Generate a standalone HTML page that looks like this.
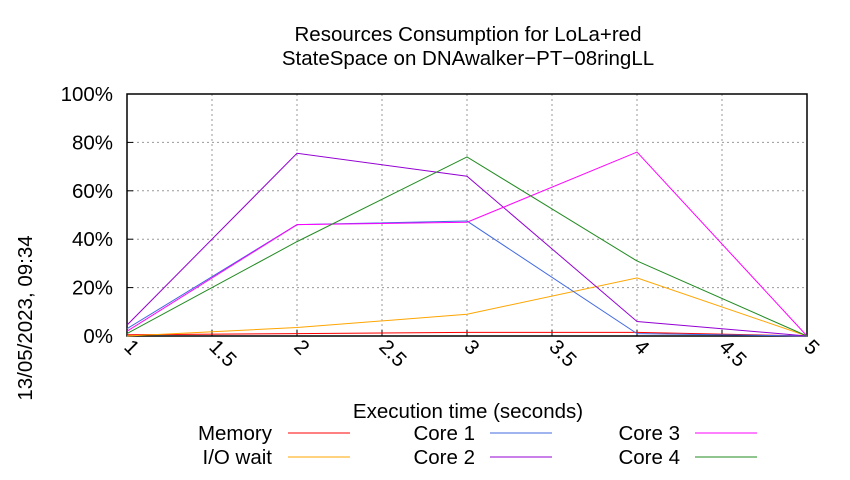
<!DOCTYPE html>
<html><head><meta charset="utf-8"><style>
body{margin:0;background:#fff;width:850px;height:475px;overflow:hidden}
text{font-family:"Liberation Sans",sans-serif;fill:#000}
</style></head><body>
<svg id="chart" width="850" height="475">
<text x="468" y="41" font-size="20.5" text-anchor="middle">Resources Consumption for LoLa+red</text>
<text x="468" y="65" font-size="20.5" text-anchor="middle">StateSpace on DNAwalker−PT−08ringLL</text>
<text transform="translate(32,318) rotate(-90)" font-size="20.5" text-anchor="middle">13/05/2023, 09:34</text>
<text x="468" y="418" font-size="20.5" text-anchor="middle">Execution time (seconds)</text>
<g id="grid"></g><g id="series"></g><g id="legend"></g>
</svg>
<script>
const xTicks=[1,1.5,2,2.5,3,3.5,4,4.5,5];
const xTickLabels=["1","1.5","2","2.5","3","3.5","4","4.5","5"];
const yTicks=[0,20,40,60,80,100];
const yTickLabels=["0%","20%","40%","60%","80%","100%"];
const times=[1,2,3,4,5];
const seriesNames=["Memory","I/O wait","Core 1","Core 2","Core 3","Core 4"];
const seriesColors=["#ff0000","#ffa500","#4169e1","#9400d3","#ff00ff","#228b22"];
const memory=[0.5,1,1.5,1.5,0];
const ioWait=[0,3.5,9,24,0];
const core1=[3,46,47.5,1,0];
const core2=[4.5,75.5,66,6,0];
const core3=[2,46,47,76,0];
const core4=[1,39,74,31,0];
const allSeries=[memory,ioWait,core1,core2,core3,core4];
const L=127,R=807,T=94,B=336;
const xs=v=>L+(v-1)/4*(R-L);
const ys=v=>B-v/100*(B-T);
const NS="http://www.w3.org/2000/svg";
function mk(tag,attrs,parent,txt){const e=document.createElementNS(NS,tag);for(const k in attrs)e.setAttribute(k,attrs[k]);if(txt!==undefined)e.textContent=txt;parent.appendChild(e);return e;}
const g=document.getElementById('grid');
yTicks.forEach((v,i)=>{
 if(v>0&&v<100){const l=mk('line',{x1:L,x2:R,y1:ys(v),y2:ys(v),stroke:'#999','stroke-dasharray':'2,3'},g);
 
 }
 const t=mk('text',{x:L-14,y:ys(v)+7,'font-size':20.5,'text-anchor':'end'},g,yTickLabels[i]);
 
 
 const tk=mk('line',{x1:L,x2:L+6,y1:ys(v),y2:ys(v),stroke:'#000'},g);
 
 
});
xTicks.forEach((v,i)=>{
 if(v>1&&v<5){const l=mk('line',{x1:xs(v),x2:xs(v),y1:T,y2:B,stroke:'#999','stroke-dasharray':'2,3'},g);
 
 }
 const tk=mk('line',{x1:xs(v),x2:xs(v),y1:B,y2:B-6,stroke:'#000'},g);
 
 
 const t=mk('text',{transform:`translate(${xs(v)-4},${B+12}) rotate(45)`,'font-size':20.5},g,xTickLabels[i]);
 
 
});
const fr=mk('rect',{x:L,y:T,width:R-L,height:B-T,fill:'none',stroke:'#000','stroke-width':1.5},g);


const sg=document.getElementById('series');
allSeries.forEach((d,i)=>{
 const p=mk('polyline',{points:d.map((v,j)=>xs(times[j])+','+ys(v)).join(' '),fill:'none',stroke:seriesColors[i],'stroke-width':1},sg);
 
 
});
const lg=document.getElementById('legend');
const lpos=[[272,288,433],[272,288,457],[475,490,433],[475,490,457],[680,695,433],[680,695,457]];
seriesNames.forEach((n,i)=>{
 const [tx,lx,y]=lpos[i];
 const t=mk('text',{x:tx,y:y+7,'font-size':20.5,'text-anchor':'end'},lg,n);
 
 
 const l=mk('line',{x1:lx,x2:lx+62,y1:y,y2:y,stroke:seriesColors[i]},lg);
 
 
});
</script>
</body></html>
